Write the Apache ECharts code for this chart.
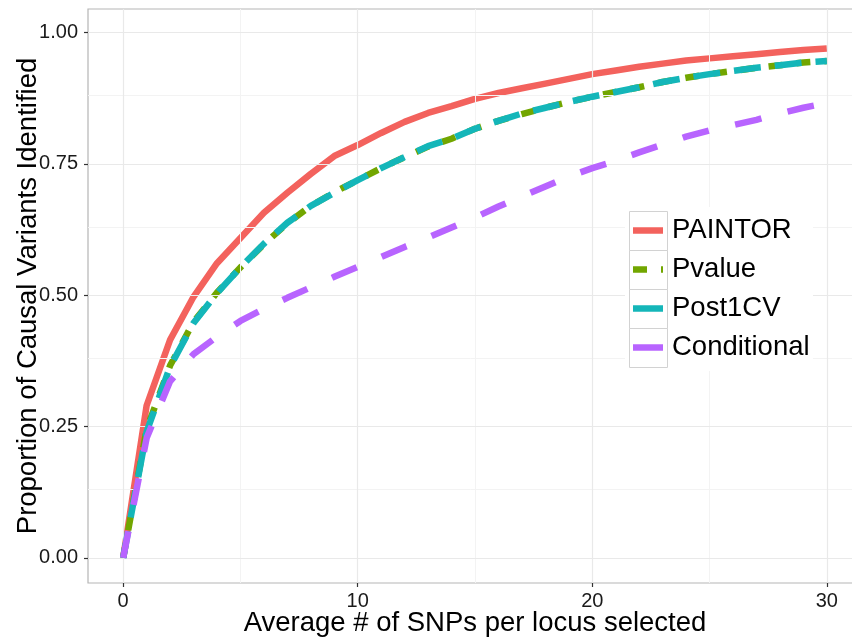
<!DOCTYPE html>
<html>
<head>
<meta charset="utf-8">
<script src="https://cdn.jsdelivr.net/npm/echarts@6/dist/echarts.min.js"></script>
<style>
  html, body { margin: 0; padding: 0; background: #fff; }
  #chart { width: 852px; height: 638px; }
</style>
</head>
<body>
<div id="chart"></div>
<script>
// Average number of SNPs selected per locus
const snpsPerLocus = [0, 1, 2, 3, 4, 5, 6, 7, 8, 9, 10, 11, 12, 13, 14, 15,
  16, 17, 18, 19, 20, 21, 22, 23, 24, 25, 26, 27, 28, 29, 30];

// Proportion of causal variants identified, per method
const paintor = [0, 0.290, 0.415, 0.497, 0.561, 0.609, 0.657, 0.695, 0.731, 0.765,
  0.786, 0.809, 0.830, 0.847, 0.860, 0.874, 0.885, 0.894, 0.903, 0.912,
  0.921, 0.928, 0.935, 0.941, 0.947, 0.951, 0.955, 0.959, 0.963, 0.967, 0.970];
const pvalue = [0, 0.245, 0.366, 0.449, 0.505, 0.553, 0.597, 0.637, 0.670, 0.696,
  0.719, 0.742, 0.763, 0.783, 0.798, 0.817, 0.832, 0.845, 0.857, 0.868,
  0.878, 0.887, 0.896, 0.906, 0.914, 0.921, 0.927, 0.933, 0.938, 0.943, 0.946];
const post1cv = [0, 0.240, 0.364, 0.447, 0.504, 0.553, 0.598, 0.638, 0.670, 0.695,
  0.719, 0.742, 0.763, 0.784, 0.798, 0.817, 0.832, 0.846, 0.857, 0.868,
  0.878, 0.887, 0.896, 0.906, 0.914, 0.921, 0.927, 0.933, 0.938, 0.943, 0.946];
const conditional = [0, 0.228, 0.336, 0.388, 0.421, 0.451, 0.474, 0.495, 0.515, 0.535,
  0.554, 0.573, 0.592, 0.610, 0.629, 0.648, 0.669, 0.688, 0.707, 0.726,
  0.742, 0.756, 0.772, 0.787, 0.802, 0.814, 0.824, 0.834, 0.846, 0.857, 0.866];

// Tick positions
const xMajorTicks = [0, 10, 20, 30];
const xMinorTicks = [5, 15, 25];
const yMajorTicks = [0, 0.25, 0.5, 0.75, 1];
const yMinorTicks = [0.125, 0.375, 0.625, 0.875];

const seriesNames = ['PAINTOR', 'Pvalue', 'Post1CV', 'Conditional'];
const seriesValues = [paintor, pvalue, post1cv, conditional];
const seriesColors = ['#F3625D', '#72A600', '#14B6B9', '#B864FF'];
const seriesDash = ['solid', [14, 14], [27, 14], [27, 27]];
// Legend keys: solid bar, or a dash / gap / dash bar for the dashed key
const legendIcons = ['rect', 'path://M0,0h14v6.5h-14z M28,0h2v6.5h-2z', 'rect', 'rect'];

const FONT = '"Liberation Sans", Arial, Helvetica, sans-serif';

const chart = echarts.init(document.getElementById('chart'), null, { renderer: 'canvas' });

function gridLines(axis, values, color, width) {
  return values.map(v => ({ [axis]: v, lineStyle: { color: color, width: width, type: 'solid' } }));
}

const lineSeries = seriesNames.map((name, i) => ({
  name: name,
  type: 'line',
  data: snpsPerLocus.map((x, j) => [x, seriesValues[i][j]]),
  symbol: 'none',
  smooth: false,
  z: 3 + i,
  lineStyle: { color: seriesColors[i], width: 6.5, type: seriesDash[i], cap: 'butt' },
  itemStyle: { color: seriesColors[i] },
  animation: false
}));

// Panel grid lines (major and minor)
const gridSeries = {
  name: 'panelGrid',
  type: 'line',
  data: [],
  z: 1,
  silent: true,
  animation: false,
  markLine: {
    silent: true,
    symbol: ['none', 'none'],
    label: { show: false },
    animation: false,
    data: [].concat(
      gridLines('xAxis', xMinorTicks, '#f3f3f3', 1),
      gridLines('yAxis', yMinorTicks, '#f3f3f3', 1),
      gridLines('xAxis', xMajorTicks, '#e9e9e9', 1.2),
      gridLines('yAxis', yMajorTicks, '#e9e9e9', 1.2)
    )
  }
};

const option = {
  backgroundColor: '#ffffff',
  animation: false,
  textStyle: { fontFamily: FONT },
  grid: {
    left: 88, top: 9, width: 774, height: 574,
    outerBoundsMode: 'none',
    show: true, borderColor: '#b5b5b5', borderWidth: 1.2, backgroundColor: '#fff',
    containLabel: false
  },
  xAxis: {
    type: 'value',
    min: -1.5, max: 31.5,
    name: 'Average # of SNPs per locus selected',
    nameLocation: 'middle',
    nameGap: 26,
    nameMoveOverlap: false,
    nameTextStyle: { fontSize: 27.5, color: '#000', fontFamily: FONT },
    axisLine: { show: false, onZero: false },
    axisTick: { show: true, customValues: xMajorTicks, length: 4, lineStyle: { color: '#333', width: 1.2 } },
    axisLabel: { customValues: xMajorTicks, fontSize: 20, color: '#1a1a1a', margin: 8, fontFamily: FONT },
    splitLine: { show: false }
  },
  yAxis: {
    type: 'value',
    min: -0.048, max: 1.045,
    name: 'Proportion of Causal Variants Identified',
    nameLocation: 'middle',
    nameGap: 46,
    nameMoveOverlap: false,
    nameTextStyle: { fontSize: 27.5, color: '#000', fontFamily: FONT },
    axisLine: { show: false, onZero: false },
    axisTick: { show: true, customValues: yMajorTicks, length: 4, lineStyle: { color: '#333', width: 1.2 } },
    axisLabel: {
      customValues: yMajorTicks, fontSize: 20, color: '#1a1a1a', margin: 10, fontFamily: FONT,
      formatter: v => v.toFixed(2)
    },
    splitLine: { show: false }
  },
  legend: {
    data: seriesNames.map((n, i) => ({ name: n, icon: legendIcons[i] })),
    orient: 'vertical',
    left: 633, top: 211,
    padding: 0,
    itemWidth: 30, itemHeight: 6.5, itemGap: 0,
    selectedMode: false,
    z: 20,
    textStyle: { fontSize: 27.5, lineHeight: 39, color: '#000', fontFamily: FONT, padding: [0, 0, 0, 4] }
  },
  graphic: [
    { type: 'rect', z: 10, silent: true, shape: { x: 625, y: 207, width: 188, height: 164 },
      style: { fill: '#fff' } }
  ].concat(seriesNames.map((n, i) => ({
    type: 'rect', z: 11, silent: true,
    shape: { x: 629.5, y: 211.5 + 39 * i, width: 38, height: 39 },
    style: { fill: '#fff', stroke: '#d2d2d2', lineWidth: 1 }
  }))),
  series: [gridSeries].concat(lineSeries)
};

chart.setOption(option);
</script>
</body>
</html>
